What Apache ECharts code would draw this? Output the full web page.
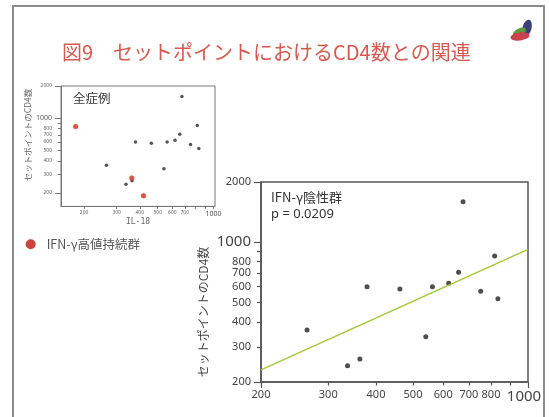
<!DOCTYPE html>
<html>
<head>
<meta charset="utf-8">
<style>
  html, body { margin: 0; padding: 0; background: #ffffff; }
  #chart { width: 549px; height: 417px; }
</style>
<script src="https://cdn.jsdelivr.net/npm/echarts@6/dist/echarts.min.js"></script>
</head>
<body>
<div id="chart"></div>
<script>
// IFN-γ negative group: IL-18 vs set-point CD4 count
const il18Neg = [264, 337, 363, 379, 462, 540, 562, 620, 658, 676, 752, 818, 834];
const cd4Neg  = [364, 241, 261, 599, 583, 337, 599, 623, 707, 1595, 568, 853, 522];
// IFN-γ persistently high group (shown only in the all-cases panel)
const il18High = [180, 362, 419];
const cd4High  = [835, 276, 189];
// Regression line endpoints (IFN-γ negative group)
const trendX = [200, 1000];
const trendY = [230, 921];

// Axis ticks and labels
const yLabels      = [200, 300, 400, 500, 600, 700, 800, 1000, 2000];
const yMajorTicks  = [200, 1000, 2000];
const yMinorTicks  = [300, 400, 500, 600, 700, 800, 900];
const bigXLabels   = [200, 300, 400, 500, 600, 700, 800, 1000];
const smallXLabels = [200, 300, 400, 500, 600, 700, 1000];
const xMajorTicks  = [200, 1000];
const xMinorTicks  = [300, 400, 500, 600, 700, 800, 900];

const FONT = '"Noto Sans", "Noto Sans CJK JP", sans-serif';
const JP = '"Noto Sans CJK JP", "Noto Sans", sans-serif';

const chart = echarts.init(document.getElementById('chart'), null, { renderer: 'canvas' });

function pairs(xs, ys) { return xs.map((x, i) => [x, ys[i]]); }

function logAxis(opts) {
  return Object.assign({
    type: 'log', logBase: 10,
    splitLine: { show: false },
    axisLine: { show: false },
    axisTick: { show: false },
    axisLabel: { show: false }
  }, opts);
}

// 1000 is printed larger than the other tick labels
function fmt() {
  return v => {
    const r = Math.round(v);
    return r === 1000 ? '{big|1000}' : String(r);
  };
}

// Big panel axes
const bigX = logAxis({
  gridIndex: 1, min: 200, max: 1000, position: 'bottom',
  axisLine: { show: true, lineStyle: { color: '#555', width: 1.5 } },
  axisTick: { show: true, customValues: xMajorTicks, length: 6, lineStyle: { color: '#555', width: 1.2 } },
  axisLabel: {
    show: true, customValues: bigXLabels, margin: 7, fontSize: 11, color: '#444', fontFamily: FONT,
    formatter: fmt(), rich: { big: { fontSize: 15, color: '#444', fontFamily: FONT, padding: [0, 8, 0, 0] } }
  }
});
const bigXMinor = logAxis({
  gridIndex: 1, min: 200, max: 1000, position: 'bottom',
  axisTick: { show: true, customValues: xMinorTicks, length: 3.5, lineStyle: { color: '#555', width: 1.2 } }
});
const bigY = logAxis({
  gridIndex: 1, min: 200, max: 2000, position: 'left',
  axisLine: { show: true, lineStyle: { color: '#555', width: 1.5 } },
  axisTick: { show: true, customValues: yMajorTicks, length: 7, lineStyle: { color: '#555', width: 1.2 } },
  axisLabel: {
    show: true, customValues: yLabels, margin: 10, fontSize: 11, color: '#444', fontFamily: FONT,
    formatter: fmt(), rich: { big: { fontSize: 15, color: '#444', fontFamily: FONT } }
  }
});
const bigYMinor = logAxis({
  gridIndex: 1, min: 200, max: 2000, position: 'left',
  axisTick: { show: true, customValues: yMinorTicks, length: 4, lineStyle: { color: '#555', width: 1.2 } }
});

// Small (all cases) panel axes
const smX = logAxis({
  gridIndex: 0, min: 150, max: 1020, position: 'bottom',
  axisLine: { show: true, lineStyle: { color: '#777', width: 1 } },
  axisTick: { show: true, customValues: xMajorTicks.concat(xMinorTicks), length: 2.5, lineStyle: { color: '#777' } },
  axisLabel: {
    show: true, customValues: smallXLabels, margin: 4, fontSize: 5, color: '#666', fontFamily: FONT,
    formatter: fmt(), rich: { big: { fontSize: 7, color: '#555', fontFamily: FONT } }
  }
});
const smY = logAxis({
  gridIndex: 0, min: 150, max: 2000, position: 'left',
  axisLine: { show: true, lineStyle: { color: '#777', width: 1 } },
  axisTick: { show: true, customValues: yMajorTicks, length: 6, lineStyle: { color: '#777' } },
  axisLabel: {
    show: true, customValues: yLabels, margin: 9, fontSize: 5, color: '#666', fontFamily: FONT,
    formatter: fmt(), rich: { big: { fontSize: 7, color: '#555', fontFamily: FONT } }
  }
});
const smYMinor = logAxis({
  gridIndex: 0, min: 150, max: 2000, position: 'left',
  axisTick: { show: true, customValues: yMinorTicks, length: 3, lineStyle: { color: '#777' } }
});

const option = {
  backgroundColor: '#ffffff',
  animation: false,
  textStyle: { fontFamily: FONT },
  grid: [
    { left: 61, top: 86, width: 154, height: 120.4, show: true, borderColor: '#777', borderWidth: 1, containLabel: false },
    { left: 261, top: 182, width: 267, height: 200, show: true, borderColor: '#555', borderWidth: 1.5, containLabel: false }
  ],
  xAxis: [smX, bigX, bigXMinor],
  yAxis: [smY, smYMinor, bigY, bigYMinor],
  series: [
    {
      type: 'scatter', xAxisIndex: 0, yAxisIndex: 0,
      data: pairs(il18Neg, cd4Neg), symbolSize: 3.5,
      itemStyle: { color: '#2a2a2a' }
    },
    {
      type: 'scatter', xAxisIndex: 0, yAxisIndex: 0,
      data: pairs(il18High, cd4High), symbolSize: 5,
      itemStyle: { color: '#cf3b2c', shadowBlur: 2, shadowColor: 'rgba(230,120,60,0.7)' }
    },
    {
      type: 'line', xAxisIndex: 1, yAxisIndex: 2,
      data: pairs(trendX, trendY), symbol: 'none',
      lineStyle: { color: '#a3c936', width: 1.5 }
    },
    {
      type: 'scatter', xAxisIndex: 1, yAxisIndex: 2,
      data: pairs(il18Neg, cd4Neg), symbolSize: 5,
      itemStyle: { color: '#222' }
    }
  ],
  graphic: [
    // slide frame
    { type: 'rect', shape: { x: 13, y: 6, width: 531, height: 440 },
      style: { fill: 'none', stroke: '#8c8c8c', lineWidth: 2 }, z: 0, silent: true },
    // logo
    { type: 'ellipse', x: 527, y: 28, rotation: -0.25, shape: { cx: 0, cy: 0, rx: 4.5, ry: 8.5 },
      style: { fill: '#3d3f78' }, z: 10 },
    { type: 'ellipse', x: 519.5, y: 32, rotation: 0.45, shape: { cx: 0, cy: 0, rx: 7, ry: 3.5 },
      style: { fill: '#5e9a3d' }, z: 11 },
    { type: 'ellipse', x: 520, y: 36.5, rotation: 0.12, shape: { cx: 0, cy: 0, rx: 9.5, ry: 4 },
      style: { fill: '#c9434c' }, z: 12 },
    // title
    { type: 'text', x: 62, y: 52, z: 20,
      style: { text: '図9　セットポイントにおけるCD4数との関連', font: '20px ' + JP,
               fill: '#d65a4f', verticalAlign: 'middle', align: 'left' } },
    // small panel texts
    { type: 'text', x: 73, y: 98, z: 20,
      style: { text: '全症例', font: '12.5px ' + JP, fill: '#333', verticalAlign: 'middle' } },
    { type: 'text', x: 28, y: 135, rotation: Math.PI / 2, z: 20,
      style: { text: 'セットポイントのCD4数', font: '8.5px ' + JP, fill: '#666',
               align: 'center', verticalAlign: 'middle' } },
    { type: 'text', x: 138, y: 222, z: 20,
      style: { text: 'IL-18', font: '8px "DejaVu Sans Mono", monospace', fill: '#666',
               align: 'center', verticalAlign: 'middle' } },
    // legend
    { type: 'circle', shape: { cx: 30.7, cy: 244.3, r: 5 }, style: { fill: '#c9463f' }, z: 20 },
    { type: 'text', x: 46.7, y: 244.3, z: 20,
      style: { text: 'IFN-γ高値持続群', font: '12.5px ' + JP, fill: '#555', verticalAlign: 'middle' } },
    // big panel texts
    { type: 'text', x: 271, y: 197, z: 20,
      style: { text: 'IFN-γ陰性群', font: '13px ' + JP, fill: '#333', verticalAlign: 'middle' } },
    { type: 'text', x: 271, y: 214.5, z: 20,
      style: { text: 'p = 0.0209', font: '13px ' + FONT, fill: '#333', verticalAlign: 'middle' } },
    { type: 'text', x: 203, y: 312, rotation: Math.PI / 2, z: 20,
      style: { text: 'セットポイントのCD4数', font: '12px ' + JP, fill: '#444',
               align: 'center', verticalAlign: 'middle' } }
  ]
};

chart.setOption(option);
</script>
</body>
</html>
